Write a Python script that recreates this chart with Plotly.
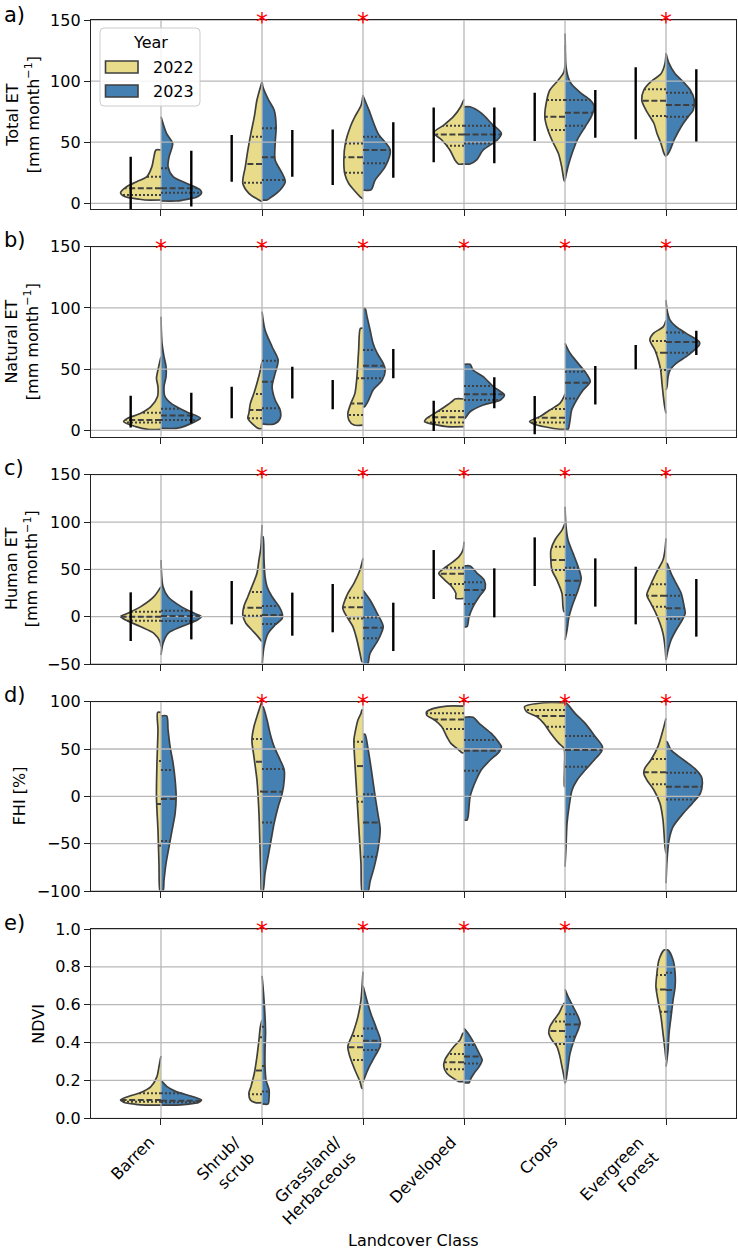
import numpy as np
import plotly.graph_objects as go

W, H = 738, 1249

categories = ["Barren", "Shrub/<br>scrub", "Grassland/<br>Herbaceous", "Developed", "Crops", "Evergreen<br>Forest"]
years = ["2022", "2023"]
year_colors = ["#e8dc8a", "#4480b1"]

# ---------- a) Total ET : half-violin profiles (value, half-width) top -> bottom ----------
total_2022_shape = [
    [(43.6, 0.05), (38, 0.07), (30, 0.09), (21.8, 0.14), (17.7, 0.24), (13.6, 0.34), (8.7, 0.40), (5.5, 0.36), (3.3, 0.21), (2.7, 0.16)],
    [(99.5, 0.0), (84.5, 0.05), (70.9, 0.076), (57.3, 0.11), (43.6, 0.14), (30, 0.165), (16.4, 0.19), (8.2, 0.13), (2.7, 0.03), (1.4, 0.0)],
    [(88.6, 0.0), (80, 0.02), (70.9, 0.08), (62.7, 0.125), (49, 0.175), (35, 0.19), (24, 0.18), (16, 0.14), (10.9, 0.09), (5.5, 0.03), (4.1, 0.01)],
    [(85, 0.0), (79, 0.033), (70.9, 0.105), (64, 0.2), (57.8, 0.30), (51.8, 0.22), (43.6, 0.14), (35.5, 0.09), (32.2, 0.056)],
    [(139, 0.0), (107.7, 0.01), (100.9, 0.066), (92.7, 0.15), (84.5, 0.18), (70.9, 0.2), (62.7, 0.18), (51.8, 0.13), (40.9, 0.066), (30, 0.033), (19.1, 0.01), (17.7, 0.0)],
    [(122.7, 0.0), (114.5, 0.01), (106, 0.05), (99.5, 0.15), (92.7, 0.22), (84.5, 0.24), (76.4, 0.2), (65.5, 0.12), (57.3, 0.09), (49, 0.05), (40.9, 0.02), (38.2, 0.0)],
]
total_2023_shape = [
    [(70.9, 0.0), (57, 0.056), (49, 0.115), (38, 0.08), (30, 0.07), (21.8, 0.12), (16.4, 0.25), (10.9, 0.39), (8.2, 0.40), (4.9, 0.35), (2.7, 0.22), (1.9, 0.15)],
    [(99.5, 0.0), (95, 0.01), (84.5, 0.066), (76.4, 0.12), (62.7, 0.14), (49, 0.13), (35.5, 0.13), (24.5, 0.2), (17.7, 0.23), (10.9, 0.18), (5.5, 0.1), (2.7, 0.05)],
    [(88, 0.0), (76, 0.06), (57, 0.15), (43.6, 0.27), (30, 0.22), (19, 0.12), (11, 0.08)],
    [(79, 0.06), (73.6, 0.175), (65.5, 0.27), (57.3, 0.37), (51.8, 0.33), (43.6, 0.19), (35.5, 0.125), (32.2, 0.06)],
    [(129.5, 0.0), (111.8, 0.01), (103.6, 0.03), (98, 0.06), (90, 0.16), (84.5, 0.25), (79, 0.29), (70.9, 0.26), (62.7, 0.2), (51.8, 0.12), (40.9, 0.07), (30, 0.03), (19, 0.0)],
    [(122.7, 0.0), (114.5, 0.03), (106, 0.09), (99.5, 0.17), (92.7, 0.24), (84.5, 0.28), (76.4, 0.27), (70.9, 0.22), (62.7, 0.15), (51.8, 0.08), (43.6, 0.04), (39.5, 0.01)],
]
total_2022_quart = [(6.8, 12.3, 21.8), (16.9, 32.2, 54.5), (25.1, 37.6, 49), (47.2, 56.4, 63.5), (60, 70.9, 84.5), (71.5, 84, 93.3)]
total_2023_quart = [(8.7, 12.3, 28.6), (19.1, 37.6, 61.4), (32.7, 43.6, 54.5), (49, 56.4, 63.5), (63.5, 74.2, 84.5), (70.9, 80.5, 90.5)]
total_2022_bar = [(-4.9, 38.2), (17.7, 55.9), (15, 60.5), (33.5, 78.5), (51, 90.5), (52.4, 111.3)]
total_2023_bar = [(-2.7, 43), (21.8, 60), (21, 66.3), (32.7, 78.5), (53.7, 92.7), (50.5, 109.6)]
total_sig = [0, 1, 1, 0, 0, 1]

# ---------- b) Natural ET ----------
natural_2022_shape = [
    [(60.2, 0.0), (49.3, 0.03), (42.5, 0.045), (35.7, 0.03), (27.5, 0.035), (19.3, 0.1), (13.9, 0.2), (9.8, 0.33), (7.1, 0.37), (3, 0.25), (0.8, 0.13)],
    [(56, 0.0), (49.3, 0.016), (38.4, 0.05), (30.2, 0.08), (22, 0.115), (13.9, 0.13), (9.8, 0.14), (5.7, 0.1), (1.4, 0.03)],
    [(83.3, 0.026), (65.6, 0.043), (43.8, 0.06), (30.2, 0.08), (22, 0.12), (13.9, 0.15), (8.4, 0.14), (4.3, 0.09)],
    [(25.6, 0.09), (23.4, 0.12), (19.3, 0.19), (13.9, 0.29), (9.8, 0.37), (7.1, 0.39), (4.4, 0.27), (3, 0.17)],
    [(30, 0.0), (27.5, 0.01), (22, 0.05), (16.6, 0.15), (11.2, 0.25), (7.1, 0.35), (4.4, 0.28), (0.8, 0.05)],
    [(90, 0.0), (84.7, 0.026), (79.2, 0.125), (73.8, 0.16), (65.6, 0.11), (57.4, 0.076), (49.3, 0.053), (38.4, 0.04), (27.5, 0.026), (19.3, 0.013), (13.9, 0.0)],
]
natural_2023_shape = [
    [(92.8, 0.0), (71, 0.01), (60.2, 0.03), (52, 0.05), (43.8, 0.05), (35.7, 0.03), (27.5, 0.04), (22, 0.1), (15.2, 0.25), (9.8, 0.39), (5.7, 0.3), (2.4, 0.2), (1.6, 0.15)],
    [(96.9, 0.0), (81.9, 0.03), (68.3, 0.1), (57.4, 0.16), (46.5, 0.13), (35.7, 0.1), (24.8, 0.13), (16.6, 0.18), (9.8, 0.18), (5.2, 0.12)],
    [(99.7, 0.02), (92.8, 0.04), (82, 0.07), (71, 0.1), (63, 0.14), (54.7, 0.2), (49.3, 0.22), (41, 0.19), (33, 0.1), (24.8, 0.056), (19.3, 0.015)],
    [(53.9, 0.06), (49.3, 0.09), (43.8, 0.19), (35.7, 0.29), (28.9, 0.4), (24.8, 0.36), (20.7, 0.19), (15.2, 0.06), (9.8, 0.01)],
    [(71, 0.0), (62.9, 0.05), (54.7, 0.13), (46.5, 0.21), (39.7, 0.25), (32.9, 0.18), (24.8, 0.115), (16.6, 0.066), (8.4, 0.05), (0.8, 0.03)],
    [(106.4, 0.0), (98.3, 0.01), (90, 0.04), (84.7, 0.1), (79.2, 0.2), (72.4, 0.33), (69.7, 0.33), (65.6, 0.28), (60.2, 0.2), (54.7, 0.1), (49.3, 0.04), (43.8, 0.02), (35.7, 0.01), (32.9, 0.0)],
]
natural_2022_quart = [(6.5, 8.4, 14.4), (9.8, 16.6, 29.7), (12.5, 22, 42.5), (6.5, 10.6, 15.8), (6.5, 10.3, 17.4), (49.3, 63.4, 73)]
natural_2023_quart = [(8.4, 12.2, 17.7), (18, 39.7, 56.9), (42.5, 52.8, 65.6), (24.8, 29.4, 36.2), (26.1, 38.9, 47.9), (63.4, 72.1, 80)]
natural_2022_bar = [(2.4, 28.3), (9.8, 35.7), (17.2, 41.1), (-0.5, 24.2), (-3.3, 28), (49.8, 69.7)]
natural_2023_bar = [(5.7, 30.8), (26.1, 52), (42.5, 66.4), (18, 43.3), (21.2, 52.5), (61.5, 81.4)]
natural_sig = [1, 1, 1, 1, 1, 1]

# ---------- c) Human ET ----------
human_2022_shape = [
    [(31.7, 0.0), (21.1, 0.07), (10.6, 0.2), (3.5, 0.33), (0, 0.4), (-3.5, 0.35), (-10.6, 0.2), (-17.6, 0.07), (-26.4, 0.01), (-31.7, 0.0)],
    [(96.8, 0.0), (73.9, 0.01), (59.9, 0.03), (45.8, 0.05), (31.7, 0.1), (21.1, 0.14), (10.6, 0.18), (1.8, 0.19), (-7, 0.16), (-14.1, 0.1), (-21.1, 0.04), (-26.4, 0.0)],
    [(61.6, 0.0), (49.3, 0.03), (35.2, 0.09), (24.6, 0.15), (14.1, 0.19), (8.8, 0.2), (0, 0.16), (-10.6, 0.1), (-24.6, 0.06), (-38.7, 0.03), (-47.5, 0.01)],
    [(79.2, 0.0), (70.4, 0.01), (63.4, 0.05), (56.3, 0.13), (49.3, 0.22), (45.8, 0.25), (38.7, 0.19), (31.7, 0.12), (24.6, 0.08), (19.4, 0.08)],
    [(98.6, 0.0), (91.5, 0.03), (81, 0.1), (70.4, 0.14), (59.9, 0.14), (49.3, 0.13), (38.7, 0.08), (24.6, 0.03), (10.6, 0.02), (5.3, 0.01)],
    [(82.7, 0.0), (70.4, 0.01), (59.9, 0.03), (45.8, 0.1), (31.7, 0.16), (22.9, 0.19), (14.1, 0.15), (3.5, 0.1), (-7, 0.06), (-17.6, 0.03), (-31.7, 0.01), (-45.8, 0.0)],
]
human_2023_shape = [
    [(59.9, 0.0), (31.7, 0.02), (21.1, 0.07), (10.6, 0.2), (3.5, 0.33), (0, 0.4), (-3.5, 0.36), (-10.6, 0.2), (-17.6, 0.07), (-28.2, 0.02), (-40.5, 0.0)],
    [(84.5, 0.01), (59.9, 0.02), (42.3, 0.03), (31.7, 0.05), (21.1, 0.1), (10.6, 0.17), (3.5, 0.2), (-1.8, 0.2), (-8.8, 0.13), (-17.6, 0.06), (-31.7, 0.02), (-52.8, 0.0)],
    [(28, 0.0), (17.6, 0.07), (3.5, 0.14), (-10.6, 0.2), (-24.6, 0.15), (-38.7, 0.07), (-52, 0.04)],
    [(53.5, 0.06), (45.8, 0.13), (38.7, 0.2), (29.9, 0.21), (21.1, 0.15), (10.6, 0.09), (0, 0.05), (-10.6, 0.03)],
    [(116.2, 0.0), (95.1, 0.01), (81, 0.03), (66.9, 0.08), (52.8, 0.13), (40.5, 0.16), (28.2, 0.13), (14.1, 0.08), (0, 0.04), (-14.1, 0.02), (-24.6, 0.0)],
    [(56.3, 0.01), (45.8, 0.05), (35.2, 0.1), (24.6, 0.15), (10.6, 0.18), (3.5, 0.19), (-3.5, 0.16), (-14.1, 0.1), (-24.6, 0.05), (-35.2, 0.02), (-45.8, 0.0)],
]
human_2022_quart = [(-4.2, 0, 5.3), (1.1, 9.5, 26.1), (-1.8, 9.9, 20.1), (34.5, 45.4, 51.8), (49.3, 59.9, 73.9), (10.6, 22.2, 34.2)]
human_2023_quart = [(-4.6, 0.7, 6.3), (-7.7, 1.8, 11.3), (-22.9, -11.6, -1), (13.4, 28.2, 36.3), (22.9, 38, 51.8), (-2.5, 8.8, 22.2)]
human_2022_bar = [(-25.7, 25.7), (-8.1, 37.7), (-16.5, 34.5), (18.7, 70.4), (32.4, 83.8), (-8.1, 52.8)]
human_2023_bar = [(-24, 27.5), (-20.1, 25.4), (-36.3, 14.8), (-0.7, 51), (10.6, 61.6), (-21.1, 39.8)]
human_sig = [0, 1, 1, 1, 1, 1]

# ---------- d) FHI ----------
fhi_2022_shape = [
    [(88.7, 0.033), (70.1, 0.03), (34.9, 0.04), (-0.4, 0.045), (-35.6, 0.03), (-70.8, 0.02), (-100, 0.01)],
    [(101, 0.0), (87.7, 0.04), (73.6, 0.08), (59.5, 0.1), (41.9, 0.08), (17.3, 0.05), (-18, 0.03), (-53.2, 0.02), (-88.4, 0.01), (-100, 0.005)],
    [(91.2, 0.01), (87.7, 0.02), (80.6, 0.05), (66.5, 0.08), (59.5, 0.09), (34.9, 0.08), (-0.4, 0.06), (-35.6, 0.04), (-70.8, 0.02), (-100, 0.01)],
    [(95.4, 0.17), (93, 0.3), (89.4, 0.37), (85.9, 0.37), (80.6, 0.29), (73.6, 0.22), (63, 0.17), (56, 0.13), (48.9, 0.05), (46.1, 0.02)],
    [(98.9, 0.21), (94.7, 0.4), (89.4, 0.38), (84.2, 0.28), (77.1, 0.21), (66.5, 0.14), (56, 0.06), (50.7, 0.01), (30, 0.005), (10.2, 0.005)],
    [(82.4, 0.0), (70.1, 0.03), (52.5, 0.08), (38.4, 0.15), (29.6, 0.21), (24.3, 0.22), (17.3, 0.19), (6.7, 0.12), (-7.4, 0.06), (-25, 0.03), (-53.2, 0.01), (-60.2, 0.0)],
]
fhi_2023_shape = [
    [(84.9, 0.056), (70.1, 0.07), (52.5, 0.09), (34.9, 0.12), (17.3, 0.14), (-0.4, 0.15), (-18, 0.14), (-35.6, 0.11), (-53.2, 0.08), (-70.8, 0.05), (-88.4, 0.03), (-100, 0.02)],
    [(94.7, 0.01), (80.6, 0.05), (66.5, 0.08), (52.5, 0.12), (38.4, 0.18), (27.8, 0.22), (17.3, 0.22), (3.2, 0.2), (-10.9, 0.16), (-28.5, 0.12), (-46.1, 0.09), (-63.7, 0.06), (-81.3, 0.03), (-100, 0.01)],
    [(65.5, 0.02), (50, 0.05), (30, 0.08), (0, 0.12), (-20, 0.15), (-35, 0.17), (-55, 0.15), (-75, 0.11), (-90, 0.07), (-100, 0.05)],
    [(83.5, 0.09), (77.1, 0.15), (66.5, 0.27), (57.7, 0.34), (52.5, 0.37), (47.2, 0.35), (38.4, 0.26), (27.8, 0.17), (17.3, 0.12), (6.7, 0.08), (-0.4, 0.06), (-11, 0.05), (-21.5, 0.04), (-25, 0.03)],
    [(98.9, 0.01), (87.7, 0.1), (77.1, 0.2), (63, 0.3), (52.5, 0.37), (47.2, 0.36), (38.4, 0.29), (27.8, 0.2), (17.3, 0.12), (6.7, 0.07), (-11, 0.04), (-28.5, 0.02), (-53.2, 0.01), (-74.3, 0.0)],
    [(57.7, 0.01), (48.9, 0.05), (41.9, 0.13), (34.9, 0.22), (27.8, 0.3), (20.8, 0.35), (13.7, 0.36), (3.2, 0.34), (-7.4, 0.26), (-18, 0.17), (-32.1, 0.07), (-46.1, 0.03), (-67.3, 0.01), (-91.9, 0.0)],
]
fhi_2022_quart = [(-52.1, -8.1, 37.3), (5, 36.6, 60.6), (-5.6, 32, 57.7), (71.1, 81.3, 87.7), (73.6, 84.9, 91.2), (12.7, 25.4, 39.4)]
fhi_2023_quart = [(-47.2, -2.8, 27.8), (-27.5, 4.9, 28.9), (-63.7, -27.5, 2.1), (27.1, 48.2, 59.5), (31.3, 48.9, 63.7), (-3.2, 10.2, 25)]
fhi_sig = [0, 1, 1, 1, 1, 1]

# ---------- e) NDVI ----------
ndvi_2022_shape = [
    [(0.329, 0.0), (0.273, 0.02), (0.22, 0.04), (0.167, 0.1), (0.136, 0.2), (0.114, 0.33), (0.097, 0.4), (0.085, 0.37), (0.074, 0.25), (0.07, 0.15)],
    [(0.52, 0.0), (0.484, 0.016), (0.414, 0.03), (0.326, 0.05), (0.238, 0.076), (0.167, 0.11), (0.132, 0.13), (0.097, 0.115), (0.083, 0.066)],
    [(0.775, 0.0), (0.625, 0.02), (0.537, 0.05), (0.449, 0.1), (0.379, 0.15), (0.326, 0.13), (0.255, 0.08), (0.194, 0.03), (0.158, 0.01)],
    [(0.449, 0.01), (0.414, 0.04), (0.379, 0.1), (0.343, 0.15), (0.308, 0.19), (0.273, 0.2), (0.238, 0.17), (0.202, 0.08), (0.194, 0.05)],
    [(0.607, 0.01), (0.555, 0.06), (0.519, 0.11), (0.484, 0.15), (0.449, 0.16), (0.414, 0.13), (0.379, 0.08), (0.326, 0.05), (0.273, 0.03), (0.22, 0.01), (0.185, 0.0)],
    [(0.889, 0.02), (0.836, 0.07), (0.766, 0.09), (0.695, 0.1), (0.625, 0.08), (0.537, 0.05), (0.449, 0.03), (0.361, 0.01), (0.308, 0.0)],
]
ndvi_2023_shape = [
    [(0.194, 0.01), (0.167, 0.06), (0.141, 0.15), (0.114, 0.32), (0.097, 0.4), (0.083, 0.37), (0.074, 0.25), (0.07, 0.15)],
    [(0.752, 0.0), (0.695, 0.01), (0.625, 0.02), (0.537, 0.03), (0.449, 0.035), (0.361, 0.03), (0.273, 0.03), (0.202, 0.04), (0.15, 0.07), (0.114, 0.07), (0.076, 0.06)],
    [(0.70, 0.0), (0.62, 0.04), (0.55, 0.08), (0.48, 0.13), (0.42, 0.17), (0.38, 0.17), (0.33, 0.12), (0.27, 0.06), (0.22, 0.02), (0.19, 0.0)],
    [(0.475, 0.0), (0.449, 0.04), (0.396, 0.1), (0.343, 0.15), (0.308, 0.18), (0.273, 0.15), (0.238, 0.1), (0.202, 0.06), (0.188, 0.05)],
    [(0.681, 0.0), (0.643, 0.03), (0.59, 0.08), (0.537, 0.13), (0.502, 0.15), (0.467, 0.13), (0.414, 0.09), (0.343, 0.05), (0.273, 0.03), (0.202, 0.01), (0.185, 0.0)],
    [(0.889, 0.02), (0.836, 0.07), (0.766, 0.09), (0.695, 0.09), (0.625, 0.07), (0.537, 0.05), (0.449, 0.03), (0.361, 0.02), (0.273, 0.0)],
]
ndvi_2022_quart = [(0.088, 0.097, 0.132), (0.127, 0.252, 0.428), (0.308, 0.375, 0.435), (0.259, 0.296, 0.34), (0.393, 0.461, 0.511), (0.563, 0.681, 0.757)]
ndvi_2023_quart = [(0.085, 0.093, 0.132), (0.141, 0.276, 0.484), (0.361, 0.41, 0.475), (0.29, 0.326, 0.387), (0.431, 0.496, 0.549), (0.563, 0.678, 0.769)]
ndvi_sig = [0, 1, 1, 1, 1, 0]

# ---------- axes ----------
panel_letters = ["a)", "b)", "c)", "d)", "e)"]
panel_titles = ["Total ET<br>[mm month<sup>−1</sup>]", "Natural ET<br>[mm month<sup>−1</sup>]",
                "Human ET<br>[mm month<sup>−1</sup>]", "FHI [%]", "NDVI"]
y_ranges = [[-4.9, 150], [-5.2, 150], [-50, 150], [-100, 100], [0, 1]]
y_ticks = [[0, 50, 100, 150], [0, 50, 100, 150], [-50, 0, 50, 100, 150],
           [-100, -50, 0, 50, 100], [0, 0.2, 0.4, 0.6, 0.8, 1.0]]
y_ticktext = [["0", "50", "100", "150"], ["0", "50", "100", "150"], ["−50", "0", "50", "100", "150"],
              ["−100", "−50", "0", "50", "100"], ["0.0", "0.2", "0.4", "0.6", "0.8", "1.0"]]
x_range = [-0.693, 5.693]
bar_offset = 0.3

# pixel layout (top, bottom) of each panel
panel_px = [(20, 209.3), (246.7, 436.7), (474.7, 664), (701.7, 891), (929, 1118.3)]
x_px = (91, 736)
title_cx = [22.5, 21.5, 22, 19, 39]
letter_cy = [15, 240, 468, 695, 923]

shapes_all = [
    (total_2022_shape, total_2023_shape, total_2022_quart, total_2023_quart, total_2022_bar, total_2023_bar, total_sig),
    (natural_2022_shape, natural_2023_shape, natural_2022_quart, natural_2023_quart, natural_2022_bar, natural_2023_bar, natural_sig),
    (human_2022_shape, human_2023_shape, human_2022_quart, human_2023_quart, human_2022_bar, human_2023_bar, human_sig),
    (fhi_2022_shape, fhi_2023_shape, fhi_2022_quart, fhi_2023_quart, None, None, fhi_sig),
    (ndvi_2022_shape, ndvi_2023_shape, ndvi_2022_quart, ndvi_2023_quart, None, None, ndvi_sig),
]

FONT = "DejaVu Sans"
EDGE = "#3f3f3f"
GRID = "#b8b8b8"


def px_x(p):
    return p / W


def px_y(p):
    return 1 - p / H


def half_polygon(ci, prof, side):
    vs = [p[0] for p in prof]
    ws = [p[1] for p in prof]
    xs = [ci + side * w for w in ws]
    ys = list(vs)
    if ws[0] > 0:
        xs = [ci] + xs
        ys = [vs[0]] + ys
    if ws[-1] > 0:
        xs = xs + [ci]
        ys = ys + [vs[-1]]
    return xs, ys


def width_at(prof, q):
    vs = np.array([p[0] for p in prof])[::-1]
    ws = np.array([p[1] for p in prof])[::-1]
    return float(np.interp(q, vs, ws))


fig = go.Figure()
layout_axes = {}
annotations = []

for pi in range(5):
    s22, s23, q22, q23, b22, b23, sig = shapes_all[pi]
    xa = "x" if pi == 0 else f"x{pi + 1}"
    ya = "y" if pi == 0 else f"y{pi + 1}"
    ylo, yhi = y_ranges[pi]

    # violin halves
    for yi, (shp, side) in enumerate([(s22, -1), (s23, 1)]):
        for ci, prof in enumerate(shp):
            xs, ys = half_polygon(ci, prof, side)
            fig.add_trace(go.Scatter(x=xs, y=ys, mode="lines", fill="toself", fillcolor=year_colors[yi],
                                     line=dict(width=0, shape="spline", smoothing=0.8, color=year_colors[yi]),
                                     hoverinfo="skip", showlegend=False, xaxis=xa, yaxis=ya))
            fig.add_trace(go.Scatter(x=xs, y=ys, mode="lines",
                                     line=dict(width=1.7, shape="spline", smoothing=0.8, color=EDGE),
                                     hoverinfo="skip", showlegend=False, xaxis=xa, yaxis=ya))

    # grid drawn above violin bodies (matplotlib zorder)
    gx, gy = [], []
    for ci in range(len(categories)):
        gx += [ci, ci, None]
        gy += [ylo, yhi, None]
    for t in y_ticks[pi]:
        gx += [x_range[0], x_range[1], None]
        gy += [t, t, None]
    fig.add_trace(go.Scatter(x=gx, y=gy, mode="lines", line=dict(color=GRID, width=1.3),
                             hoverinfo="skip", showlegend=False, xaxis=xa, yaxis=ya))

    # quartile lines
    mx, my, qx, qy = [], [], [], []
    for shp, qs, side in [(s22, q22, -1), (s23, q23, 1)]:
        for ci, (prof, qq) in enumerate(zip(shp, qs)):
            for k, q in enumerate(qq):
                w = width_at(prof, q)
                seg_x = [ci, ci + side * w, None]
                seg_y = [q, q, None]
                if k == 1:
                    mx += seg_x
                    my += seg_y
                else:
                    qx += seg_x
                    qy += seg_y
    fig.add_trace(go.Scatter(x=mx, y=my, mode="lines", line=dict(color=EDGE, width=2.0, dash="6px,2.6px"),
                             hoverinfo="skip", showlegend=False, xaxis=xa, yaxis=ya))
    fig.add_trace(go.Scatter(x=qx, y=qy, mode="lines", line=dict(color=EDGE, width=2.0, dash="2px,2px"),
                             hoverinfo="skip", showlegend=False, xaxis=xa, yaxis=ya))

    # error bars
    if b22 is not None:
        ex, ey = [], []
        for bars, side in [(b22, -1), (b23, 1)]:
            for ci, (lo, hi) in enumerate(bars):
                ex += [ci + side * bar_offset, ci + side * bar_offset, None]
                ey += [lo, hi, None]
        fig.add_trace(go.Scatter(x=ex, y=ey, mode="lines", line=dict(color="black", width=2.4),
                                 hoverinfo="skip", showlegend=False, xaxis=xa, yaxis=ya))

    # significance asterisks (red text glyph centred on the top spine)
    for ci, s in enumerate(sig):
        if s:
            annotations.append(dict(text="*", xref=xa, yref=f"{ya} domain", x=ci, y=1,
                                    xanchor="center", yanchor="middle", yshift=-2, showarrow=False,
                                    font=dict(family=FONT, size=24, color="red")))

    top, bot = panel_px[pi]
    xkey = "xaxis" if pi == 0 else f"xaxis{pi + 1}"
    ykey = "yaxis" if pi == 0 else f"yaxis{pi + 1}"
    layout_axes[xkey] = dict(domain=[px_x(x_px[0]), px_x(x_px[1])], range=x_range, anchor=ya,
                             tickmode="array", tickvals=list(range(len(categories))),
                             showticklabels=False,
                             ticks="outside", ticklen=6, tickwidth=1.2, tickcolor="#222",
                             showline=True, linecolor="#222", linewidth=1.3, mirror=True,
                             showgrid=False, zeroline=False, automargin=False)
    layout_axes[ykey] = dict(domain=[px_y(bot), px_y(top)], range=[ylo, yhi], anchor=xa,
                             tickmode="array", tickvals=y_ticks[pi], ticktext=y_ticktext[pi],
                             ticks="outside", ticklen=6, tickwidth=1.2, tickcolor="#222",
                             showline=True, linecolor="#222", linewidth=1.3, mirror=True,
                             showgrid=False, zeroline=False, automargin=False,
                             tickfont=dict(family=FONT, size=16, color="black"))

    annotations.append(dict(text=panel_titles[pi], xref="paper", yref="paper",
                            x=px_x(title_cx[pi]), y=px_y((top + bot) / 2), xanchor="center", yanchor="middle",
                            textangle=-90, showarrow=False, font=dict(family=FONT, size=16, color="black")))
    annotations.append(dict(text=panel_letters[pi], xref="paper", yref="paper",
                            x=px_x(2), y=px_y(letter_cy[pi]), xanchor="left", yanchor="middle",
                            showarrow=False, font=dict(family=FONT, size=21, color="black")))

# rotated category labels under the bottom panel (matplotlib rotation=45, ha='right')
for ci, cat in enumerate(categories):
    annotations.append(dict(text=cat, xref="x5", yref="paper", x=ci, y=px_y(panel_px[4][1] + 10),
                            xanchor="right", yanchor="top", textangle=-45, align="right",
                            xshift=-2, yshift=-3, showarrow=False, borderpad=0,
                            font=dict(family=FONT, size=16, color="black")))

annotations.append(dict(text="Landcover Class", xref="paper", yref="paper", x=px_x(413.5), y=px_y(1240),
                        xanchor="center", yanchor="middle", showarrow=False,
                        font=dict(family=FONT, size=16, color="black")))


# manual legend (matching matplotlib legend box, rounded corners)
def rounded_rect(x0, y0, x1, y1, r):
    X = lambda p: px_x(p)
    Y = lambda p: px_y(p)
    return (f"M {X(x0 + r)},{Y(y0)} L {X(x1 - r)},{Y(y0)} Q {X(x1)},{Y(y0)} {X(x1)},{Y(y0 + r)} "
            f"L {X(x1)},{Y(y1 - r)} Q {X(x1)},{Y(y1)} {X(x1 - r)},{Y(y1)} "
            f"L {X(x0 + r)},{Y(y1)} Q {X(x0)},{Y(y1)} {X(x0)},{Y(y1 - r)} "
            f"L {X(x0)},{Y(y0 + r)} Q {X(x0)},{Y(y0)} {X(x0 + r)},{Y(y0)} Z")


legend_shapes = [
    dict(type="path", xref="paper", yref="paper", path=rounded_rect(100, 28, 200, 106, 4),
         fillcolor="rgba(255,255,255,0.85)", line=dict(color="#cccccc", width=1), layer="above"),
]
for yi, yr in enumerate(years):
    cy = 67 + 24 * yi
    legend_shapes.append(dict(type="rect", xref="paper", yref="paper", x0=px_x(105.5), x1=px_x(138),
                              y0=px_y(cy + 6), y1=px_y(cy - 6), fillcolor=year_colors[yi],
                              line=dict(color=EDGE, width=1.6), layer="above"))
    annotations.append(dict(text=yr, xref="paper", yref="paper", x=px_x(151), y=px_y(cy),
                            xanchor="left", yanchor="middle", showarrow=False,
                            font=dict(family=FONT, size=16, color="black")))
annotations.append(dict(text="Year", xref="paper", yref="paper", x=px_x(150), y=px_y(42.5),
                        xanchor="center", yanchor="middle", showarrow=False,
                        font=dict(family=FONT, size=16, color="black")))

fig.update_layout(
    width=W, height=H, template="none",
    margin=dict(l=0, r=0, t=0, b=0),
    paper_bgcolor="white", plot_bgcolor="white",
    showlegend=False,
    font=dict(family=FONT, size=16, color="black"),
    annotations=annotations,
    shapes=legend_shapes,
    **layout_axes,
)

fig.write_html("out.html")
